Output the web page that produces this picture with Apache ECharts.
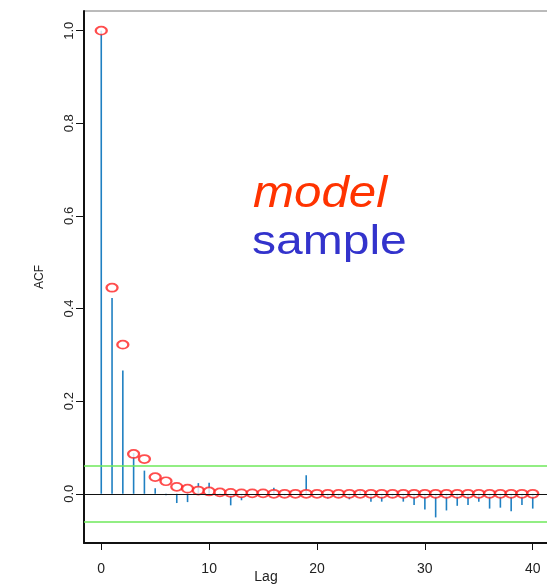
<!DOCTYPE html>
<html><head><meta charset="utf-8">
<script src="https://cdn.jsdelivr.net/npm/echarts@6/dist/echarts.min.js"></script>
<style>html,body{margin:0;padding:0;background:#fff}#c{width:547px;height:587px}</style>
</head><body><div id="c"></div>
<script>
const lags = Array.from({length: 41}, (_, i) => i);
const modelAcf = [1.0, 0.445, 0.322, 0.086, 0.075, 0.036, 0.027, 0.015, 0.011, 0.007, 0.005,
  0.003, 0.002, 0.001, 0.001, 0.001, 0.0, 0.0, 0.0, 0.0, 0.0, 0.0, 0.0, 0.0, 0.0, 0.0,
  0.0, 0.0, 0.0, 0.0, 0.0, 0.0, 0.0, 0.0, 0.0, 0.0, 0.0, 0.0, 0.0, 0.0, 0.0];
const sampleAcf = [1.0, 0.423, 0.266, 0.088, 0.050, 0.012, -0.003, -0.020, -0.018, 0.023, 0.024,
  0.001, -0.025, -0.014, 0.0, 0.0, 0.013, -0.006, 0.0, 0.040, 0.0,
  -0.010, -0.008, -0.012, 0.007, -0.017, -0.017, -0.008, -0.017, -0.024, -0.034,
  -0.051, -0.036, -0.026, -0.024, -0.017, -0.032, -0.030, -0.038, -0.024, -0.032];
const confBound = 0.0626;
const xTicks = [0, 10, 20, 30, 40];
const yTicks = [0, 0.2, 0.4, 0.6, 0.8, 1.0];

const chart = echarts.init(document.getElementById('c'), null, {renderer: 'canvas'});
chart.setOption({
  animation: false,
  grid: {left: 84, right: -3, top: 11, bottom: 44, outerBoundsMode: 'none', containLabel: false,
    show: true, borderColor: '#777', borderWidth: 1},
  xAxis: {
    type: 'value', min: -1.6, max: 41.6,
    splitLine: {show: false},
    axisLine: {onZero: false, lineStyle: {color: '#111', width: 2}},
    axisTick: {show: true, length: 7, inside: false, customValues: xTicks, lineStyle: {color: '#111'}},
    axisLabel: {customValues: xTicks, margin: 19, fontFamily: 'Liberation Sans', fontSize: 14, color: '#222'}
  },
  yAxis: {
    type: 'value', min: -0.1063, max: 1.0425,
    splitLine: {show: false},
    axisLine: {onZero: false, lineStyle: {color: '#111', width: 2}},
    axisTick: {show: true, length: 8, customValues: yTicks, lineStyle: {color: '#111'}},
    axisLabel: {customValues: yTicks, rotate: 90, margin: 8, fontFamily: 'Liberation Sans', fontSize: 13, color: '#222',
      formatter: v => v.toFixed(1)},
    name: 'ACF', nameLocation: 'middle', nameRotate: 90, nameGap: 38,
    nameTextStyle: {fontFamily: 'Liberation Sans', fontSize: 12, color: '#222'}
  },
  series: [
    {
      type: 'custom', name: 'sample', z: 2,
      data: lags.map((l, i) => [l, sampleAcf[i]]),
      renderItem: (params, api) => {
        const p0 = api.coord([api.value(0), 0]);
        const p1 = api.coord([api.value(0), api.value(1)]);
        return {type: 'line', shape: {x1: p0[0], y1: p0[1], x2: p1[0], y2: p1[1]},
          style: {stroke: '#1f80c2', lineWidth: 1.6}};
      },
      markLine: {
        silent: true, symbol: 'none', label: {show: false},
        data: [
          {yAxis: 0, lineStyle: {color: '#111', width: 1, type: 'solid'}},
          {yAxis: confBound, lineStyle: {color: '#6ee85a', width: 1.6, type: 'solid'}},
          {yAxis: -confBound, lineStyle: {color: '#6ee85a', width: 1.6, type: 'solid'}}
        ]
      }
    },
    {
      type: 'scatter', name: 'model', z: 3,
      data: lags.map((l, i) => [l, modelAcf[i]]),
      symbol: 'emptyCircle', symbolSize: [11, 8],
      itemStyle: {color: '#ff2020', borderColor: '#ff2020', borderWidth: 1}
    }
  ],
  graphic: [
    {type: 'text', left: 253, top: 173, scaleX: 1.12,
      style: {text: 'model', font: 'italic 44px "Liberation Sans"', fill: '#ff3300'}},
    {type: 'text', left: 252, top: 223, scaleX: 1.2,
      style: {text: 'sample', font: '40px "Liberation Sans"', fill: '#3333cc'}},
    {type: 'text', x: 266, y: 577,
      style: {text: 'Lag', font: '14px "Liberation Sans"', fill: '#222', align: 'center', verticalAlign: 'middle'}}
  ]
});
</script></body></html>
